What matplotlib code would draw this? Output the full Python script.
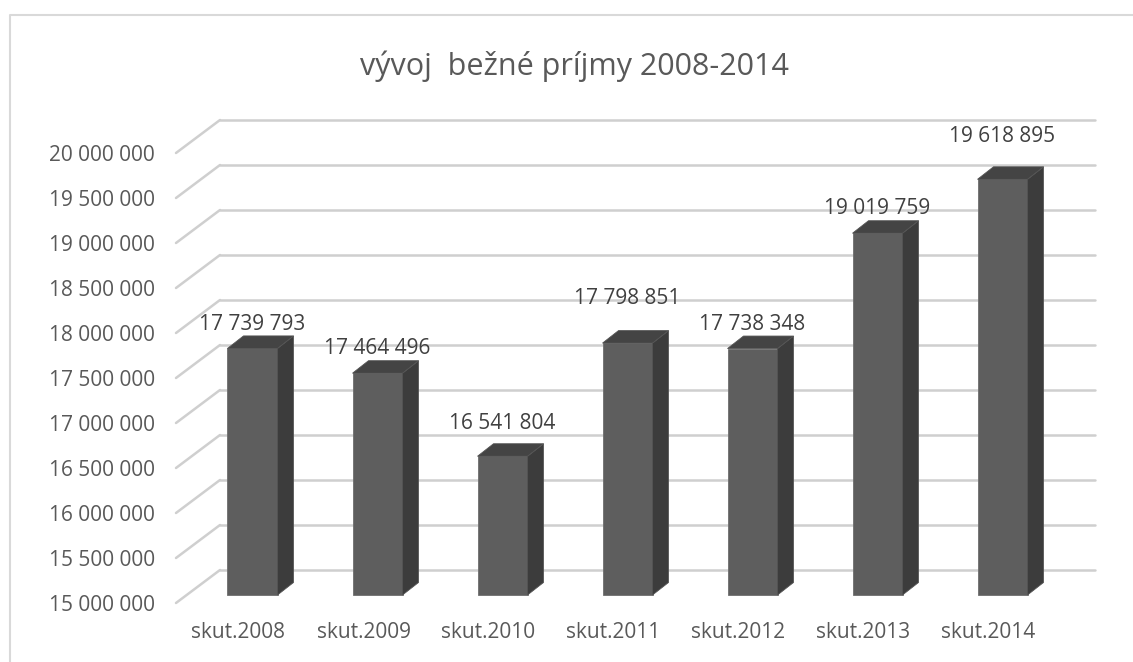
import matplotlib.pyplot as plt
from matplotlib.patches import Polygon
from matplotlib.lines import Line2D

plt.rcParams['font.family'] = ['Open Sans', 'DejaVu Sans']

# data
categories = ["skut.2008", "skut.2009", "skut.2010", "skut.2011",
              "skut.2012", "skut.2013", "skut.2014"]
values = [17739793, 17464496, 16541804, 17798851, 17738348, 19019759, 19618895]
yticks = list(range(15000000, 20000001, 500000))
title = "vývoj  bežné príjmy 2008-2014"

# label lift above the bar front top, in pixels (Excel put them unevenly)
label_lift = [18, 19, 27, 39, 19, 19, 37]

W, H = 1133, 662
fig = plt.figure(figsize=(W / 100, H / 100), dpi=100)

# front plane of the 3d plot: x 176..1051 px, y 603 px = 15M, 90 px per 1M
left_px, right_px, floor_px, top_px = 176, 1051, 603, 100
ax = fig.add_axes([left_px / W, (H - floor_px) / H,
                   (right_px - left_px) / W, (floor_px - top_px) / H])
px_x = 7 / (right_px - left_px)
px_y = 1e6 / 90
ymin = 15e6
ax.set_xlim(-0.5, 6.5)
ax.set_ylim(ymin, ymin + (floor_px - top_px) * px_y)

text_col = "#595959"
grid_col = "#cfcfcf"

# back wall gridlines with the slanted side wall lines
dxb, dyb = 44 * px_x, 33 * px_y
for v in yticks:
    ax.plot([-0.5, -0.5 + dxb], [v, v + dyb], color=grid_col, lw=1.8,
            solid_capstyle="round", zorder=1, clip_on=False)
    ax.plot([-0.5 + dxb, 6.5 + dxb], [v + dyb, v + dyb], color=grid_col,
            lw=1.8, solid_capstyle="round", zorder=1, clip_on=False)

# bars sit on a plane 8 px above / 14 px right of the front plane
xs = list(range(len(values)))
shift_x = 14 * px_x
lift = 8 * px_y
bw = 50 * px_x
ddx, ddy = 16 * px_x, 12.5 * px_y
bar_x = [x + shift_x for x in xs]
ax.bar(bar_x, [v - ymin for v in values], bottom=ymin + lift, width=bw,
       color="#5e5e5e", edgecolor="#6e6e6e", lw=0.6, zorder=3, clip_on=False)
for x, v in zip(bar_x, values):
    l, r = x - bw / 2, x + bw / 2
    b, t = ymin + lift, v + lift
    side = Polygon([(r, b), (r + ddx, b + ddy), (r + ddx, t + ddy), (r, t)],
                   closed=True, facecolor="#3c3c3c", edgecolor="#555555",
                   lw=0.6, zorder=3, clip_on=False)
    top = Polygon([(l, t), (r, t), (r + ddx, t + ddy), (l + ddx, t + ddy)],
                  closed=True, facecolor="#444444", edgecolor="#555555",
                  lw=0.6, zorder=3, clip_on=False)
    ax.add_patch(side)
    ax.add_patch(top)

# data labels
for x, v, up in zip(bar_x, values, label_lift):
    ax.text(x, v + lift + up * px_y, f"{v:,}".replace(",", " "), ha="center",
            va="baseline", fontsize=15, color="#404040", zorder=5)

# axes ticks
ax.set_yticks(yticks)
ax.set_yticklabels([f"{v:,}".replace(",", " ") for v in yticks])
ax.set_xticks(xs)
ax.set_xticklabels(categories)
ax.tick_params(axis="y", length=0, pad=15, labelsize=15, labelcolor=text_col)
ax.tick_params(axis="x", length=0, pad=14, labelsize=15, labelcolor=text_col)
for s in ax.spines.values():
    s.set_visible(False)
ax.patch.set_visible(False)

fig.text(574 / W, 1 - 75 / H, title, ha="center", va="baseline",
         fontsize=22, color=text_col)

# chart area border (only top and left edges are visible)
fig.add_artist(Line2D([9.5 / W, 9.5 / W, 1], [0, 1 - 14.5 / H, 1 - 14.5 / H],
                      color="#d9d9d9", lw=1.5, transform=fig.transFigure))

fig.savefig("out.png", dpi=100)
